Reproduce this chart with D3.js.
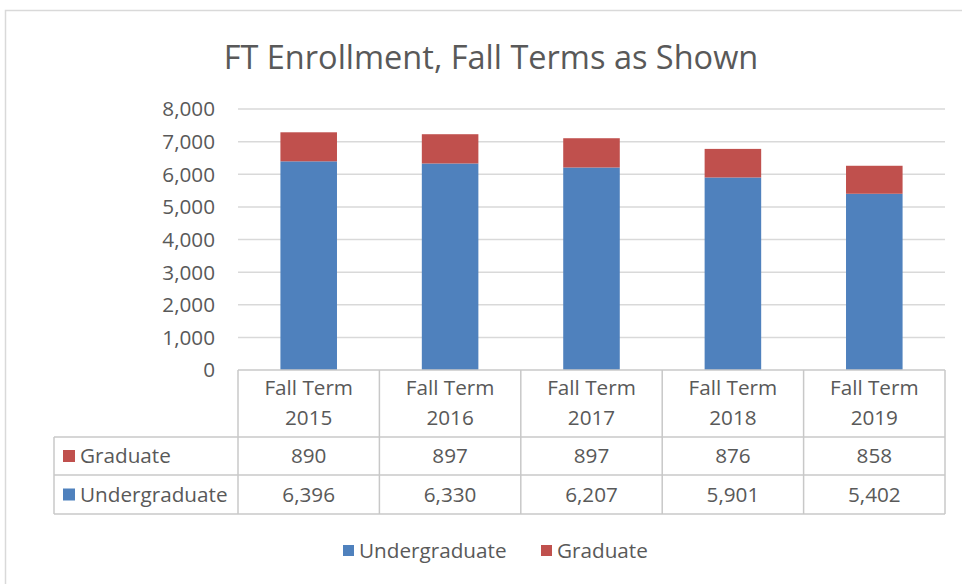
<!DOCTYPE html>
<html><head><meta charset="utf-8">
<script src="https://cdn.jsdelivr.net/npm/d3@7"></script>
<style>
html,body{margin:0;padding:0;background:#fff;}
text{font-family:"Open Sans",Lato,sans-serif;fill:#595959;}
</style></head>
<body>
<svg id="chart" width="962" height="584"></svg>
<script>
const categories = ["Fall Term 2015","Fall Term 2016","Fall Term 2017","Fall Term 2018","Fall Term 2019"];
const catLine1 = ["Fall Term","Fall Term","Fall Term","Fall Term","Fall Term"];
const catLine2 = ["2015","2016","2017","2018","2019"];
const undergraduate = [6396, 6330, 6207, 5901, 5402];
const graduate = [890, 897, 897, 876, 858];
const seriesNames = ["Undergraduate","Graduate"];
const seriesColors = ["#4F81BD","#C0504D"];
const yTicks = [0,1000,2000,3000,4000,5000,6000,7000,8000];
const title = "FT Enrollment, Fall Terms as Shown";

const svg = d3.select("#chart");
const W = 962, H = 584;
const plot = {left:238, right:945, top:109, bottom:370};
const fs = "20.7px";

svg.append("rect").attr("x",5.5).attr("y",10.5).attr("width",W).attr("height",H)
  .attr("fill","none").attr("stroke","#d9d9d9").attr("stroke-width",1.5);

svg.append("text").attr("x",491).attr("y",57).attr("dy","0.36em").attr("text-anchor","middle")
  .style("font-size","32.5px").text(title);

const x = d3.scaleBand().domain(categories).range([plot.left, plot.right]).paddingInner(0.6).paddingOuter(0.3);
const band = d3.scaleBand().domain(categories).range([plot.left, plot.right]);
const y = d3.scaleLinear().domain([0,8000]).range([plot.bottom, plot.top]);

svg.append("g").selectAll("line").data(yTicks.filter(d=>d>0)).join("line")
  .attr("x1",plot.left).attr("x2",plot.right)
  .attr("y1",d=>y(d)).attr("y2",d=>y(d))
  .attr("stroke","#d9d9d9").attr("stroke-width",1.5);

const fmt = d3.format(",");
svg.append("g").selectAll("text").data(yTicks).join("text")
  .attr("x",215).attr("y",d=>y(d)).attr("dy","0.36em").attr("text-anchor","end")
  .style("font-size",fs).text(d=>fmt(d));

const rows = categories.map((c,i)=>({cat:c, Undergraduate:undergraduate[i], Graduate:graduate[i]}));
const stack = d3.stack().keys(seriesNames)(rows);
svg.append("g").selectAll("g").data(stack).join("g")
  .attr("fill",(d,i)=>seriesColors[i])
  .selectAll("rect").data(d=>d).join("rect")
  .attr("x",d=>x(d.data.cat)).attr("width",x.bandwidth())
  .attr("y",d=>y(d[1])).attr("height",d=>y(d[0])-y(d[1]));

const tbl = {left:54, hdrTop:370, hdrBot:437, row1Bot:475, row2Bot:514};
const lineColor = "#c8c8c8";
const tg = svg.append("g").attr("stroke",lineColor).attr("stroke-width",1.5);
tg.append("line").attr("x1",plot.left).attr("x2",plot.right).attr("y1",tbl.hdrTop).attr("y2",tbl.hdrTop);
[tbl.hdrBot, tbl.row1Bot, tbl.row2Bot].forEach(yy=>{
  tg.append("line").attr("x1",tbl.left).attr("x2",plot.right).attr("y1",yy).attr("y2",yy);
});
tg.append("line").attr("x1",tbl.left).attr("x2",tbl.left).attr("y1",tbl.hdrBot).attr("y2",tbl.row2Bot);
const bounds = categories.map(c=>band(c)).concat([plot.right]);
bounds.forEach(bx=>{
  tg.append("line").attr("x1",bx).attr("x2",bx).attr("y1",tbl.hdrTop).attr("y2",tbl.row2Bot);
});
categories.forEach((c,i)=>{
  const cx = band(c)+band.bandwidth()/2;
  svg.append("text").attr("x",cx).attr("y",388).attr("dy","0.36em").attr("text-anchor","middle").style("font-size",fs).text(catLine1[i]);
  svg.append("text").attr("x",cx).attr("y",418).attr("dy","0.36em").attr("text-anchor","middle").style("font-size",fs).text(catLine2[i]);
});
const tableRows = [
  {name:seriesNames[1], color:seriesColors[1], vals:graduate, top:tbl.hdrBot, bot:tbl.row1Bot},
  {name:seriesNames[0], color:seriesColors[0], vals:undergraduate, top:tbl.row1Bot, bot:tbl.row2Bot}
];
tableRows.forEach(r=>{
  const cy = (r.top+r.bot)/2;
  svg.append("rect").attr("x",63).attr("y",cy-6).attr("width",12).attr("height",12).attr("fill",r.color);
  svg.append("text").attr("x",80).attr("y",cy).attr("dy","0.36em").style("font-size",fs).text(r.name);
  r.vals.forEach((v,i)=>{
    svg.append("text").attr("x",band(categories[i])+band.bandwidth()/2).attr("y",cy).attr("dy","0.36em")
      .attr("text-anchor","middle").style("font-size",fs).text(fmt(v));
  });
});

const legendItems = [
  {name:seriesNames[0], color:seriesColors[0], x:343},
  {name:seriesNames[1], color:seriesColors[1], x:541}
];
legendItems.forEach(l=>{
  svg.append("rect").attr("x",l.x).attr("y",545).attr("width",11).attr("height",11).attr("fill",l.color);
  svg.append("text").attr("x",l.x+16).attr("y",550.5).attr("dy","0.36em").style("font-size",fs).text(l.name);
});
</script>
</body></html>
